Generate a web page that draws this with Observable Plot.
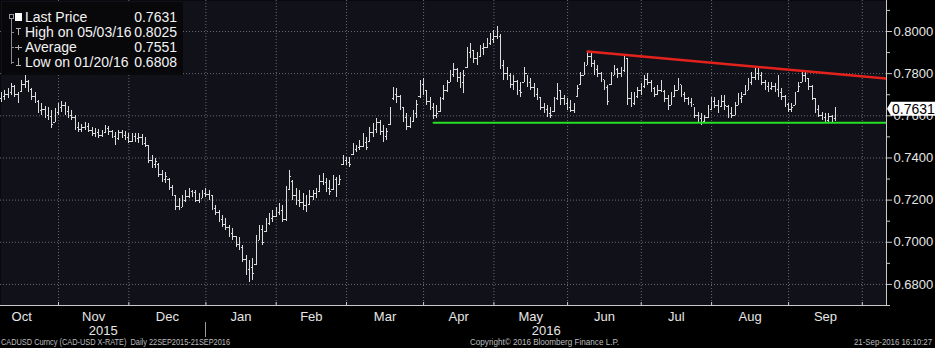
<!DOCTYPE html>
<html><head><meta charset="utf-8">
<script src="https://cdn.jsdelivr.net/npm/d3@7"></script>
<script src="https://cdn.jsdelivr.net/npm/@observablehq/plot@0.6"></script>
<style>
html,body{margin:0;padding:0;background:#000;}
#chart{width:935px;height:348px;overflow:hidden;}
</style></head><body><div id="chart"></div>
<script>
// ---- data ----
const calendarStart = "2015-09-22";   // first day of the daily series (weekdays)
const calendarEnd = "2016-10-14";
const firstBarDate = "2015-10-08";    // first bar visible in the picture
const high = [
.7711,.7720,.7730,.7754,.7745,.7711,.7768,.7790,.7768,.7730,
.7711,.7673,.7659,.7645,.7640,.7626,.7635,.7659,.7668,.7664,
.7645,.7626,.7602,.7568,.7559,.7568,.7564,.7545,.7540,.7535,
.7531,.7554,.7550,.7531,.7521,.7531,.7531,.7526,.7516,.7516,
.7516,.7516,.7512,.7497,.7460,.7412,.7397,.7374,.7341,.7331,
.7303,.7270,.7222,.7208,.7222,.7246,.7255,.7246,.7246,.7232,
.7246,.7255,.7246,.7222,.7175,.7151,.7127,.7113,.7080,.7066,
.7028,.7023,.6985,.6938,.6914,.6923,.7033,.7080,.7080,.7113,
.7137,.7151,.7165,.7184,.7175,.7265,.7341,.7293,.7255,.7246,
.7232,.7222,.7246,.7246,.7255,.7317,.7327,.7303,.7293,.7317,
.7308,.7317,.7412,.7402,.7402,.7469,.7460,.7483,.7516,.7497,
.7545,.7564,.7588,.7578,.7554,.7540,.7640,.7735,.7730,.7697,
.7640,.7611,.7592,.7626,.7673,.7768,.7777,.7720,.7687,.7659,
.7649,.7687,.7744,.7768,.7815,.7848,.7825,.7806,.7815,.7924,
.7943,.7910,.7900,.7934,.7943,.7967,.7991,.8005,.8025,.7985,
.7860,.7829,.7801,.7791,.7768,.7758,.7829,.7791,.7777,.7754,
.7730,.7687,.7659,.7649,.7640,.7687,.7754,.7720,.7697,.7682,
.7673,.7659,.7744,.7806,.7853,.7900,.7896,.7863,.7839,.7806,
.7768,.7744,.7806,.7839,.7825,.7829,.7886,.7872,.7711,.7711,
.7735,.7754,.7791,.7801,.7768,.7735,.7744,.7768,.7720,.7697,
.7711,.7744,.7777,.7744,.7711,.7687,.7682,.7640,.7616,.7611,
.7602,.7649,.7687,.7687,.7673,.7697,.7697,.7649,.7640,.7663,
.7706,.7711,.7744,.7777,.7806,.7825,.7829,.7806,.7768,.7758,
.7758,.7754,.7791,.7730,.7697,.7659,.7659,.7711,.7758,.7806,
.7806,.7777,.7744,.7682,.7649,.7616,.7611,.7611,.7602,.7640];
const low = [
.7664,.7673,.7683,.7697,.7688,.7659,.7711,.7730,.7711,.7673,
.7659,.7611,.7602,.7588,.7578,.7540,.7568,.7602,.7616,.7602,
.7588,.7578,.7531,.7521,.7521,.7531,.7521,.7502,.7497,.7493,
.7497,.7516,.7507,.7493,.7460,.7483,.7493,.7483,.7469,.7474,
.7474,.7469,.7460,.7450,.7374,.7350,.7350,.7308,.7284,.7279,
.7246,.7218,.7151,.7151,.7165,.7189,.7208,.7213,.7189,.7184,
.7208,.7213,.7198,.7151,.7127,.7094,.7070,.7056,.7023,.7009,
.6976,.6961,.6904,.6843,.6808,.6819,.6890,.7009,.6985,.7047,
.7080,.7094,.7118,.7127,.7094,.7100,.7246,.7198,.7175,.7165,
.7151,.7142,.7175,.7198,.7208,.7236,.7270,.7236,.7222,.7246,
.7213,.7270,.7365,.7365,.7355,.7412,.7426,.7436,.7450,.7436,
.7474,.7497,.7516,.7507,.7474,.7483,.7554,.7673,.7659,.7626,
.7568,.7531,.7540,.7568,.7588,.7682,.7697,.7649,.7626,.7583,
.7588,.7616,.7673,.7711,.7758,.7782,.7758,.7730,.7706,.7825,
.7872,.7848,.7839,.7877,.7886,.7919,.7934,.7943,.7960,.7820,
.7768,.7768,.7730,.7720,.7697,.7687,.7758,.7735,.7720,.7687,
.7673,.7626,.7611,.7592,.7588,.7616,.7673,.7649,.7649,.7626,
.7616,.7611,.7687,.7744,.7791,.7839,.7829,.7791,.7782,.7758,
.7720,.7649,.7744,.7791,.7777,.7782,.7806,.7649,.7640,.7649,
.7682,.7697,.7730,.7744,.7711,.7687,.7697,.7711,.7663,.7626,
.7649,.7687,.7720,.7687,.7663,.7649,.7640,.7588,.7568,.7554,
.7568,.7588,.7626,.7635,.7611,.7640,.7626,.7588,.7588,.7602,
.7649,.7659,.7697,.7720,.7744,.7768,.7768,.7744,.7720,.7711,
.7720,.7711,.7687,.7673,.7640,.7616,.7616,.7649,.7711,.7758,
.7758,.7720,.7673,.7611,.7592,.7578,.7568,.7564,.7568,.7573];
const open = [
.7680,.7690,.7700,.7710,.7740,.7700,.7715,.7750,.7765,.7725,
.7690,.7670,.7625,.7630,.7600,.7595,.7570,.7615,.7640,.7650,
.7620,.7600,.7590,.7545,.7535,.7545,.7550,.7530,.7515,.7520,
.7505,.7520,.7540,.7525,.7500,.7490,.7520,.7505,.7495,.7480,
.7500,.7490,.7495,.7470,.7460,.7390,.7370,.7370,.7320,.7300,
.7300,.7260,.7220,.7170,.7165,.7200,.7215,.7240,.7235,.7200,
.7210,.7230,.7225,.7220,.7160,.7140,.7110,.7085,.7070,.7040,
.7025,.6990,.6975,.6920,.6870,.6880,.6895,.7010,.7060,.7050,
.7090,.7115,.7120,.7140,.7150,.7110,.7250,.7290,.7220,.7200,
.7190,.7175,.7180,.7215,.7230,.7240,.7290,.7285,.7255,.7250,
.7300,.7275,.7370,.7390,.7380,.7415,.7440,.7450,.7455,.7475,
.7480,.7520,.7535,.7570,.7525,.7500,.7560,.7680,.7700,.7690,
.7640,.7590,.7550,.7575,.7610,.7690,.7750,.7720,.7670,.7640,
.7600,.7620,.7680,.7720,.7760,.7795,.7820,.7780,.7760,.7830,
.7900,.7910,.7870,.7880,.7920,.7925,.7945,.7960,.7975,.7975,
.7840,.7800,.7790,.7750,.7765,.7720,.7760,.7800,.7760,.7735,
.7700,.7685,.7640,.7630,.7610,.7620,.7680,.7720,.7680,.7660,
.7640,.7625,.7690,.7750,.7790,.7840,.7880,.7850,.7820,.7800,
.7770,.7735,.7750,.7790,.7820,.7800,.7815,.7870,.7680,.7660,
.7690,.7720,.7740,.7770,.7760,.7730,.7700,.7720,.7715,.7680,
.7650,.7690,.7720,.7750,.7700,.7680,.7665,.7655,.7600,.7585,
.7575,.7590,.7630,.7670,.7650,.7645,.7670,.7645,.7610,.7600,
.7650,.7680,.7700,.7720,.7760,.7780,.7800,.7790,.7760,.7740,
.7730,.7740,.7725,.7710,.7690,.7655,.7630,.7650,.7715,.7760,
.7790,.7775,.7740,.7680,.7630,.7600,.7590,.7580,.7595,.7585];
const close = [
.7690,.7700,.7710,.7740,.7700,.7690,.7750,.7765,.7725,.7690,
.7670,.7625,.7630,.7600,.7595,.7560,.7615,.7640,.7650,.7620,
.7600,.7590,.7545,.7535,.7545,.7550,.7530,.7515,.7520,.7505,
.7520,.7540,.7525,.7500,.7490,.7520,.7505,.7495,.7480,.7500,
.7490,.7495,.7470,.7460,.7390,.7370,.7385,.7320,.7300,.7310,
.7260,.7230,.7170,.7165,.7200,.7215,.7240,.7235,.7200,.7210,
.7230,.7225,.7220,.7160,.7140,.7110,.7085,.7070,.7040,.7025,
.6990,.6975,.6920,.6870,.6880,.6850,.7010,.7060,.7000,.7090,
.7115,.7120,.7140,.7150,.7110,.7240,.7310,.7220,.7200,.7190,
.7175,.7160,.7215,.7230,.7225,.7290,.7285,.7255,.7240,.7300,
.7230,.7300,.7390,.7380,.7370,.7440,.7450,.7455,.7475,.7450,
.7520,.7535,.7570,.7525,.7500,.7525,.7620,.7700,.7690,.7650,
.7590,.7550,.7575,.7610,.7655,.7750,.7720,.7670,.7640,.7600,
.7610,.7660,.7720,.7750,.7795,.7820,.7780,.7760,.7790,.7900,
.7910,.7870,.7880,.7920,.7925,.7945,.7960,.7975,.7975,.7840,
.7800,.7790,.7750,.7765,.7720,.7710,.7800,.7760,.7735,.7700,
.7690,.7640,.7630,.7610,.7600,.7670,.7720,.7680,.7660,.7640,
.7625,.7640,.7730,.7790,.7830,.7880,.7850,.7820,.7800,.7770,
.7735,.7670,.7790,.7820,.7800,.7815,.7870,.7680,.7660,.7690,
.7720,.7740,.7770,.7760,.7730,.7700,.7720,.7740,.7680,.7640,
.7670,.7720,.7750,.7700,.7680,.7665,.7655,.7600,.7585,.7575,
.7590,.7630,.7670,.7650,.7630,.7670,.7650,.7610,.7600,.7640,
.7680,.7690,.7720,.7760,.7780,.7800,.7790,.7760,.7740,.7730,
.7740,.7725,.7710,.7690,.7660,.7630,.7640,.7690,.7740,.7790,
.7780,.7740,.7690,.7630,.7600,.7590,.7580,.7595,.7585,.7631];

const monthNames = ["Oct","Nov","Dec","Jan","Feb","Mar","Apr","May","Jun","Jul","Aug","Sep"];
const yearNames = ["2015","2016"];
const priceTicks = [0.68,0.70,0.72,0.74,0.76,0.78,0.80];
const minorTicks = [0.67,0.69,0.71,0.73,0.75,0.77,0.79,0.81];
const legendLabels = ["Last Price","High on 05/03/16","Average","Low on 01/20/16"];
const legendValues = ["0.7631","0.8025","0.7551","0.6808"];
const lastPrice = 0.7631;
const supportDates = ["2016-04-06","2016-10-12"];
const supportPrices = [0.7567,0.7567];
const resistanceDates = ["2016-06-09","2016-10-12"];
const resistancePrices = [0.7905,0.7777];
const footerLeft = "CADUSD Curncy (CAD-USD X-RATE)  Daily 22SEP2015-21SEP2016";
const footerCenter = "Copyright\u00A9 2016 Bloomberg Finance L.P.";
const footerRight = "21-Sep-2016 16:10:27";

// ---- weekday calendar (trading-day index) ----
const calendar = [];
for (let d = new Date(calendarStart + "T12:00:00Z"); d <= new Date(calendarEnd + "T12:00:00Z"); d = new Date(d.getTime() + 864e5)) {
  const w = d.getUTCDay();
  if (w !== 0 && w !== 6) calendar.push(d.toISOString().slice(0, 10));
}
const idx = new Map(calendar.map((s, i) => [s, i]));
const i0 = idx.get(firstBarDate);
const bars = close.map((c, k) => ({i: i0 + k, open: open[k], high: high[k], low: low[k], close: c}));

const monthStarts = [];
for (let k = 1; k < calendar.length; k++) if (calendar[k].slice(5, 7) !== calendar[k - 1].slice(5, 7)) monthStarts.push(k);
const monthCenters = monthNames.map((m, k) => (monthStarts[k] + monthStarts[k + 1]) / 2);
const nameByCenter = new Map(monthCenters.map((c, k) => [c, monthNames[k]]));

const xDomain = [11.675, 276.23];
const yearStart = monthStarts[3];
const yearCenters = [(xDomain[0] + yearStart) / 2, (yearStart + xDomain[1]) / 2];
const yearByCenter = new Map(yearCenters.map((c, k) => [c, yearNames[k]]));

const support = supportDates.map((d, k) => ({i: idx.get(d), p: supportPrices[k]}));
const resistance = resistanceDates.map((d, k) => ({i: idx.get(d), p: resistancePrices[k]}));

const FONT = "'Liberation Sans', Arial, sans-serif";
const NARROW = "'Liberation Sans Narrow', 'Liberation Sans', Arial, sans-serif";
const barColor = "#dcdcdc";
const axisColor = "#c9c9c9";

const chart = Plot.plot({
  width: 935, height: 348,
  marginLeft: 0, marginRight: 49, marginTop: 0, marginBottom: 43,
  style: {background: "#000", fontFamily: FONT, color: "#e6e6e6", overflow: "visible"},
  x: {type: "linear", domain: xDomain, label: null},
  y: {domain: [0.6700, 0.8147], label: null},
  marks: [
    Plot.frame({fill: "#11111a", stroke: "none"}),
    Plot.gridY(priceTicks, {stroke: "#6a6a72", strokeOpacity: 1, strokeDasharray: "1,2"}),
    Plot.gridX(monthStarts, {stroke: "#6a6a72", strokeOpacity: 1, strokeDasharray: "1,2"}),
    Plot.ruleX(bars, {x: "i", y1: "low", y2: "high", stroke: barColor, strokeWidth: 1, shapeRendering: "crispEdges"}),
    Plot.ruleY(bars, {y: "open", x1: d => d.i - 0.42, x2: "i", stroke: barColor, strokeWidth: 1, shapeRendering: "crispEdges"}),
    Plot.ruleY(bars, {y: "close", x1: "i", x2: d => d.i + 0.42, stroke: barColor, strokeWidth: 1, shapeRendering: "crispEdges"}),
    Plot.line(support, {x: "i", y: "p", stroke: "#25e025", strokeWidth: 2.2}),
    Plot.line(resistance, {x: "i", y: "p", stroke: "#e3221c", strokeWidth: 2.6}),
    Plot.frame({anchor: "right", stroke: axisColor}),
    Plot.frame({anchor: "bottom", stroke: axisColor}),
    Plot.axisY(priceTicks, {anchor: "right", label: null, tickSize: 5, tickPadding: 2, tickFormat: d => d.toFixed(4), fontSize: 13, color: "#e6e6e6", stroke: axisColor}),
    Plot.axisY(minorTicks, {anchor: "right", label: null, tickSize: 3, text: null, stroke: axisColor}),
    Plot.axisX(monthStarts, {anchor: "bottom", label: null, tickSize: -3, text: null, stroke: axisColor}),
    Plot.axisX(monthCenters, {anchor: "bottom", label: null, tickSize: 0, tickPadding: 6, tickFormat: d => nameByCenter.get(d), fontSize: 13, color: "#e6e6e6"}),
    Plot.axisX(yearCenters, {anchor: "bottom", label: null, tickSize: 0, tickPadding: 20, tickFormat: d => yearByCenter.get(d), fontSize: 13, color: "#e6e6e6"})
  ]
});
document.getElementById("chart").append(chart);

// ---- overlays drawn on the same SVG ----
const svg = d3.select(chart);
const xs = chart.scale("x"), ys = chart.scale("y");

// year separator
const xJan = Math.round(xs.apply(yearStart)) + 0.5;
svg.append("line").attr("x1", xJan).attr("x2", xJan).attr("y1", 322).attr("y2", 337)
  .attr("stroke", "#9a9a9a").attr("stroke-width", 1);

// last price tag
const yl = ys.apply(lastPrice);
const xr = xs.apply(xDomain[1]);
const tag = svg.append("g").attr("text-anchor", "start");
tag.append("path")
  .attr("d", `M${xr + 1},${yl} L${xr + 5},${yl - 7} L935,${yl - 7} L935,${yl + 7} L${xr + 5},${yl + 7} Z`)
  .attr("fill", "#ffffff");
tag.append("text").attr("x", xr + 6).attr("y", yl).attr("dy", "0.36em")
  .attr("font-family", FONT).attr("font-size", 14).attr("fill", "#000").text(lastPrice.toFixed(4));

// legend box
const lg = svg.append("g").attr("font-family", FONT).attr("font-size", 14).attr("text-anchor", "start");
lg.append("rect").attr("x", 2).attr("y", 2).attr("width", 181).attr("height", 73)
  .attr("fill", "#07070b").attr("fill-opacity", 0.93);
lg.append("line").attr("x1", 11.5).attr("x2", 11.5).attr("y1", 14).attr("y2", 64).attr("stroke", "#8a8a8a");
[32, 47, 62].forEach(y => lg.append("line").attr("x1", 11).attr("x2", 14).attr("y1", y + 0.5).attr("y2", y + 0.5).attr("stroke", "#8a8a8a"));
lg.append("rect").attr("x", 9.5).attr("y", 14.5).attr("width", 4).attr("height", 4).attr("fill", "#07070b").attr("stroke", "#9a9a9a");
lg.append("rect").attr("x", 15).attr("y", 13).attr("width", 7).attr("height", 8).attr("fill", "#ffffff");
// high / average / low glyphs
lg.append("path").attr("d", "M16,28.5H21M18.5,28.5V35").attr("stroke", "#b0b0b0").attr("fill", "none");
lg.append("path").attr("d", "M15,47.5H22M18.5,45V50").attr("stroke", "#b0b0b0").attr("fill", "none");
lg.append("path").attr("d", "M18.5,58V65M16,65.5H21").attr("stroke", "#b0b0b0").attr("fill", "none");
legendLabels.forEach((t, k) => {
  const y = 17 + 15 * k;
  lg.append("text").attr("x", 25).attr("y", y).attr("dy", "0.36em").attr("fill", "#f2f2f2").text(t);
  lg.append("text").attr("x", 177).attr("y", y).attr("dy", "0.36em").attr("text-anchor", "end").attr("fill", "#f2f2f2").text(legendValues[k]);
});

// footer
const ft = svg.append("g").attr("font-family", NARROW).attr("font-size", 9.5).attr("fill", "#bdbdbd").attr("text-anchor", "start");
ft.append("text").attr("x", 1).attr("y", 345).attr("textLength", 229).attr("lengthAdjust", "spacingAndGlyphs").text(footerLeft);
ft.append("text").attr("x", 470).attr("y", 345).attr("textLength", 149).attr("lengthAdjust", "spacingAndGlyphs").text(footerCenter);
ft.append("text").attr("x", 854).attr("y", 345).attr("textLength", 78).attr("lengthAdjust", "spacingAndGlyphs").text(footerRight);
</script>
</body></html>
